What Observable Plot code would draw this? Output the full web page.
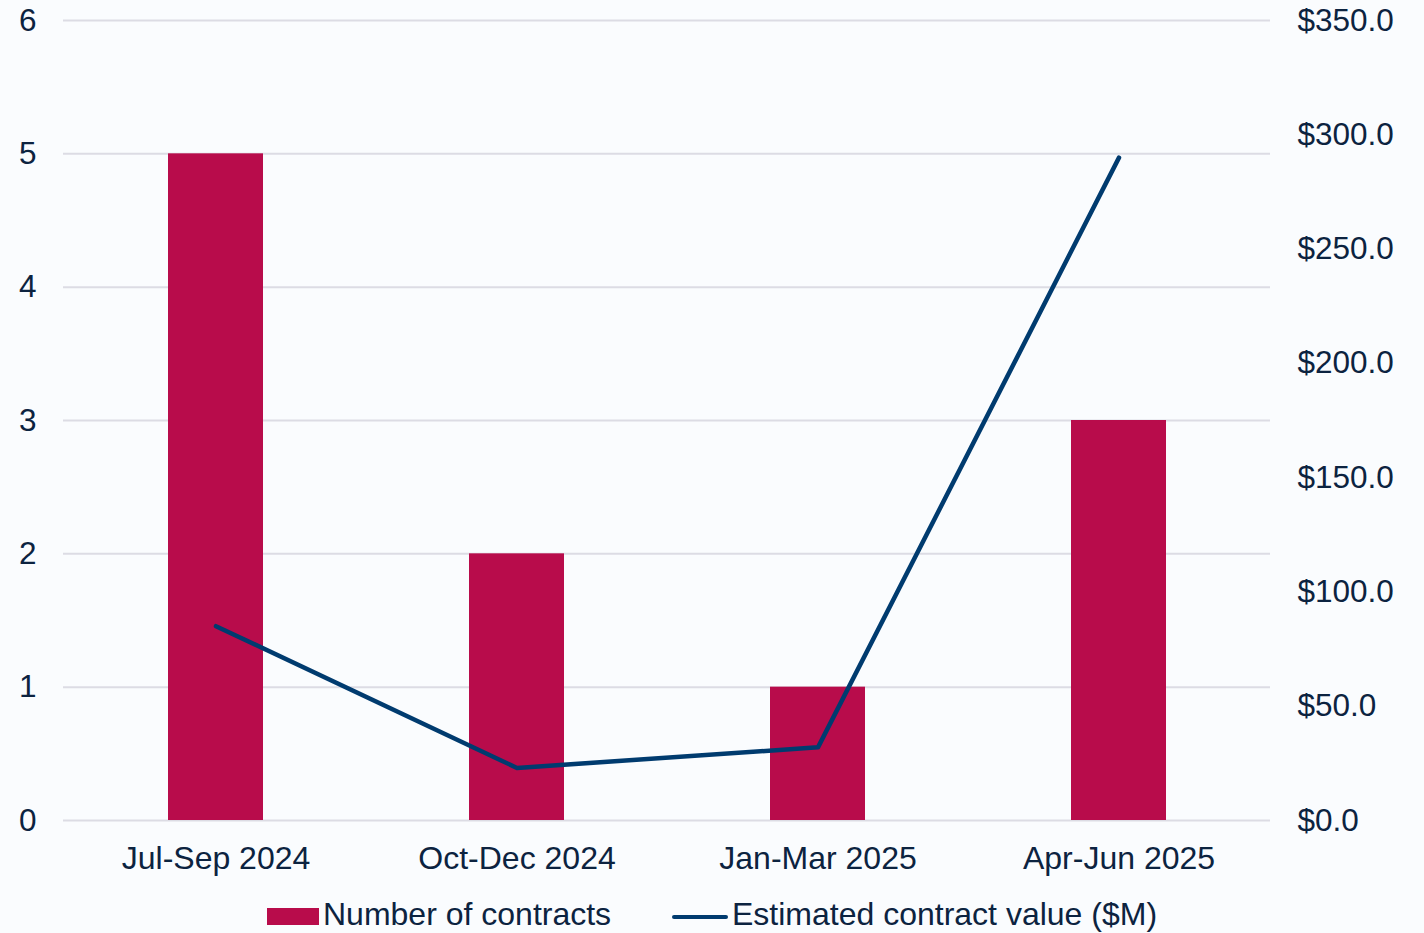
<!DOCTYPE html>
<html>
<head>
<meta charset="utf-8">
<script src="https://cdn.jsdelivr.net/npm/d3@7"></script>
<script src="https://cdn.jsdelivr.net/npm/@observablehq/plot@0.6"></script>
<style>
  html, body { margin: 0; padding: 0; background: #FAFCFE; }
  body { width: 1424px; height: 933px; overflow: hidden; position: relative; font-family: "Liberation Sans", Arial, sans-serif; color: #0C2340; }
  #chart { position: absolute; left: 0; top: 0; }
  #legend { position: absolute; left: 0; top: 896px; width: 1424px; height: 37px; }
  .item { position: absolute; top: 0; font-size: 32px; line-height: 36px; white-space: nowrap; }
  .sw { position: absolute; }
</style>
</head>
<body>
<div id="chart"></div>
<div id="legend">
  <div class="sw" style="left:267px; top:12px; width:52px; height:17px; background:#B80C4B;"></div>
  <div class="item" style="left:323px;">Number of contracts</div>
  <div class="sw" style="left:672px; top:19px; width:56px; height:4px; background:#003B6F; border-radius:2px;"></div>
  <div class="item" style="left:732px;">Estimated contract value ($M)</div>
</div>
<script>
const quarters = ["Jul-Sep 2024", "Oct-Dec 2024", "Jan-Mar 2025", "Apr-Jun 2025"];
const contracts = [5, 2, 1, 3];
const contractValue = [85, 23, 32, 290];
const leftTicks = [0, 1, 2, 3, 4, 5, 6];
const rightTicks = [0, 50, 100, 150, 200, 250, 300, 350];
const leftMax = 6, rightMax = 350;

const toLeft = v => v * leftMax / rightMax;
const rows = quarters.map((q, i) => ({q, n: contracts[i], v: contractValue[i], vs: toLeft(contractValue[i])}));

const textColor = "#0C2340";
const chart = Plot.plot({
  width: 1424,
  height: 893,
  marginLeft: 63,
  marginRight: 154,
  marginTop: 20,
  marginBottom: 73,
  style: {background: "transparent", fontFamily: "Liberation Sans, Arial, sans-serif", fontSize: "32px", color: textColor},
  x: {domain: quarters, paddingInner: 0.685, paddingOuter: 0.3425, label: null},
  y: {domain: [0, leftMax], label: null},
  marks: [
    Plot.ruleY(leftTicks, {stroke: "#DCDCE4", strokeWidth: 2}),
    Plot.barY(rows, {x: "q", y: "n", fill: "#B80C4B"}),
    Plot.line(rows, {x: "q", y: "vs", stroke: "#003B6F", strokeWidth: 4.5, strokeLinecap: "round", strokeLinejoin: "round"}),
    Plot.axisX({tickSize: 0, tickPadding: 26, fontSize: 32, fill: textColor}),
    Plot.axisY({anchor: "left", ticks: leftTicks, tickSize: 0, tickPadding: 27, fontSize: 31.5, fill: textColor, tickFormat: d => String(d)}),
    Plot.axisY({anchor: "right", ticks: rightTicks.map(toLeft), tickSize: 0, tickPadding: 27, fontSize: 31.5, fill: textColor,
      tickFormat: d => "$" + (Math.round(d * rightMax / leftMax * 10) / 10).toFixed(1)})
  ]
});
document.getElementById("chart").appendChild(chart);
</script>
</body>
</html>
